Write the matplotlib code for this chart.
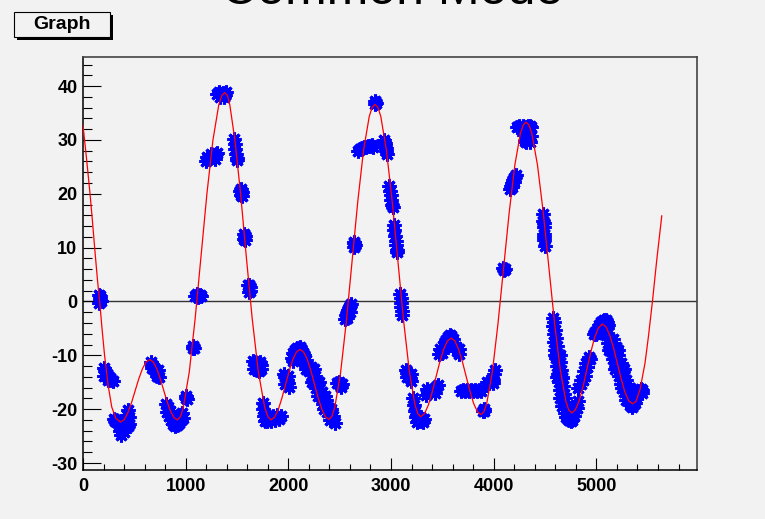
import matplotlib
matplotlib.use("Agg")
import matplotlib.pyplot as plt
from matplotlib.patches import Rectangle
from matplotlib.ticker import MultipleLocator

plt.rcParams['font.family'] = ['Liberation Sans', 'DejaVu Sans']
plt.rcParams['axes.unicode_minus'] = False

# -----------------------
# Data
# -----------------------
# red fit curve
fit_x = [0, 34, 68, 92, 117, 141, 165, 187, 210, 245, 280, 320, 365,
         401, 436, 472, 508, 543, 579, 614, 650,
         684, 717, 751, 785, 818, 852, 885, 919,
         948, 977, 1035, 1092, 1150, 1207, 1265, 1322, 1351, 1380,
         1408, 1430, 1480, 1535, 1590, 1648, 1708, 1770, 1801, 1831,
         1866, 1902, 1937, 1973, 2008, 2043, 2079, 2114,
         2149, 2185, 2220, 2255, 2290, 2326, 2361, 2396,
         2424, 2452, 2508, 2564, 2620, 2676, 2732, 2788, 2816, 2844,
         2872, 2900, 2955, 3011, 3067, 3122, 3178, 3233, 3261, 3289,
         3326, 3363, 3400, 3437, 3474, 3511, 3548, 3585,
         3622, 3658, 3695, 3731, 3768, 3804, 3841, 3877,
         3904, 3932, 3987, 4041, 4096, 4151, 4206, 4260, 4288, 4315,
         4343, 4371, 4426, 4482, 4538, 4593, 4649, 4704, 4732, 4760,
         4797, 4835, 4872, 4910, 4947, 4984, 5022, 5059,
         5096, 5132, 5169, 5205, 5242, 5278, 5315, 5351,
         5385, 5426, 5474, 5507, 5546, 5588, 5637]
fit_y = [32.7, 26.6, 20.1, 14.9, 9.2, 4.0, -0.6, -5.4, -10.0, -15.6, -19.6, -21.7, -22.4,
         -21.96, -20.70, -18.82, -16.6, -14.38, -12.50, -11.24, -10.8,
         -11.23, -12.44, -14.26, -16.4, -18.54, -20.36, -21.57, -22.0,
         -21.42, -19.68, -13.10, -3.23, 8.4, 20.03, 29.90, 36.48, 38.22, 38.8,
         38.2, 36.5, 29.9, 20.0, 8.4, -3.2, -13.1, -19.7, -21.4, -22.0,
         -21.50, -20.08, -17.96, -15.45, -12.94, -10.82, -9.40, -8.9,
         -9.40, -10.80, -12.91, -15.4, -17.89, -20.0, -21.40, -21.9,
         -21.34, -19.67, -13.34, -3.84, 7.35, 18.54, 28.04, 34.37, 36.04, 36.6,
         36.04, 34.39, 28.11, 18.70, 7.6, -3.50, -12.91, -19.19, -20.84, -21.4,
         -20.84, -19.26, -16.89, -14.1, -11.31, -8.94, -7.36, -6.8,
         -7.34, -8.88, -11.18, -13.9, -16.62, -18.92, -20.46, -21.0,
         -20.48, -18.93, -13.05, -4.24, 6.15, 16.54, 25.35, 31.23, 32.78, 33.3,
         32.78, 31.24, 25.39, 16.63, 6.3, -4.03, -12.79, -18.64, -20.18, -20.7,
         -20.07, -18.28, -15.61, -12.45, -9.29, -6.62, -4.83, -4.2,
         -4.76, -6.37, -8.77, -11.6, -14.43, -16.83, -18.44, -19.0,
         -18.6, -16.3, -11.4, -6.5, 0.0, 7.7, 15.9]

# blue measured points, one line per group of samples
data_x = [155, 170, 160, 175, 165,
          203, 215, 230, 245, 260, 275, 290, 205, 240,
          300, 312, 325, 340, 355, 365, 372, 385, 395, 400, 415, 425, 435, 445, 450, 440,
          660, 672, 685, 700, 712, 725, 740, 668, 730,
          805, 815, 825, 835, 845, 855, 865, 875, 885, 895, 905, 915, 925, 935, 945, 955, 965, 972,
          1000, 1012, 1006,
          1068, 1082, 1075,
          1092, 1108, 1122, 1135, 1148,
          1196, 1215, 1235, 1255, 1275, 1295, 1305, 1205, 1245, 1285,
          1305, 1325, 1345, 1365, 1385, 1395, 1335, 1375,
          1470, 1478, 1484, 1490, 1496, 1500,
          1525, 1540, 1550, 1535, 1545,
          1568, 1580, 1575, 1572,
          1610, 1625, 1615, 1628, 1620,
          1660, 1680, 1700, 1720, 1735, 1665, 1690, 1710, 1730,
          1750, 1755, 1762, 1770, 1785, 1795, 1810, 1830, 1850, 1870, 1890, 1910, 1925,
          1955, 1970, 1985, 2000, 2010, 1965, 1995,
          2035, 2050, 2065, 2080, 2095, 2110, 2125, 2140, 2155, 2170, 2045, 2100, 2150,
          2166, 2224, 2201, 2258, 2236, 2293, 2270, 2328, 2305, 2362, 2340, 2397, 2374, 2431,
          2409, 2450, 2256, 2325, 2394,
          2175, 2245, 2232, 2302, 2290, 2360, 2348, 2418,
          2475, 2500, 2525, 2490, 2515,
          2555, 2565, 2575, 2585, 2595, 2605, 2612, 2570, 2600,
          2635, 2650, 2643, 2640,
          2675, 2695, 2715, 2735, 2755, 2775, 2795, 2815, 2825,
          2840, 2855, 2848,
          2935, 2945, 2955, 2960, 2940, 2950,
          2985, 2992, 2998, 3004, 3010, 3015,
          3025, 3032, 3038, 3044, 3050, 3057, 3060,
          3090, 3095, 3098, 3102, 3105, 3108,
          3148, 3160, 3172, 3185, 3197, 3155, 3190,
          3215, 3222, 3230, 3240, 3250, 3265, 3280, 3295, 3310, 3325,
          3340, 3360, 3380, 3400, 3420, 3440, 3455, 3350, 3430,
          3470, 3480, 3495, 3510, 3525, 3540, 3555, 3570, 3585, 3600, 3615, 3630, 3645, 3660, 3665, 3545, 3600,
          3680, 3700, 3720, 3740, 3760, 3780, 3800, 3820, 3840, 3860, 3880,
          3895, 3910, 3903,
          3935, 3955, 3975, 3995, 4005, 4008, 3990,
          4095, 4110, 4103,
          4155, 4165, 4175, 4185, 4195, 4205, 4215, 4180, 4200,
          4230, 4250, 4270, 4290, 4310, 4330, 4350, 4368, 4295, 4315, 4335, 4355, 4366, 4325, 4300,
          4480, 4483, 4486, 4489, 4492, 4495, 4485, 4490,
          4573, 4583, 4578, 4596, 4585, 4607, 4592, 4619, 4600, 4631, 4608, 4642, 4616, 4652,
          4625, 4663, 4634, 4674, 4642, 4683, 4652, 4693, 4662,
          4593, 4643, 4619, 4669, 4645, 4695,
          4690, 4705, 4720, 4735, 4750, 4765, 4780, 4795, 4810, 4825, 4700, 4740, 4770,
          4824, 4848, 4850, 4887, 4877, 4913, 4903, 4939, 4930, 4865, 4905,
          4975, 4990, 5000, 5015, 5030, 5045, 5060, 5075, 5090, 5105, 5115, 5025, 5060, 5100,
          5090, 5162, 5115, 5188, 5140, 5213, 5166, 5239, 5191, 5264, 5217, 5289, 5242, 5315,
          5268, 5340, 5293,
          5132, 5158, 5183, 5209, 5234, 5259, 5285, 5310,
          5126, 5206, 5185, 5265, 5245, 5325,
          5330, 5345, 5360, 5375, 5350, 5385, 5400, 5415, 5430, 5445, 5440]
data_y = [1.2, 1.0, -0.3, 0.0, 0.5,
          -12.3, -12.9, -13.4, -13.9, -14.3, -14.6, -14.8, -13.8, -14.6,
          -21.8, -22.2, -22.0, -22.6, -23.2, -24.0, -24.8, -23.5, -24.3, -22.8, -22.0, -21.0, -20.2, -21.5, -22.8, -23.2,
          -11.2, -11.8, -12.2, -12.6, -13.3, -13.8, -14.1, -12.4, -12.8,
          -19.0, -20.5, -19.6, -21.2, -20.3, -22.0, -21.0, -22.8, -21.6, -23.2, -22.0, -23.0, -21.5, -22.5, -21.0, -22.0, -20.8, -21.6,
          -17.6, -18.2, -17.9,
          -8.3, -8.7, -8.6,
          1.0, 1.3, 0.9, 1.2, 1.0,
          26.0, 26.4, 26.6, 26.8, 27.0, 27.3, 27.5, 26.9, 27.4, 26.4,
          38.6, 38.9, 38.5, 38.8, 38.4, 38.9, 38.0, 38.0,
          30.2, 29.2, 28.3, 27.4, 26.6, 26.2,
          20.5, 19.8, 20.3, 20.8, 19.5,
          12.5, 11.5, 12.2, 11.6,
          3.1, 2.6, 1.8, 1.9, 3.0,
          -11.0, -11.2, -11.5, -11.2, -11.8, -12.5, -12.8, -13.0, -12.6,
          -18.8, -20.0, -21.2, -22.2, -21.0, -22.2, -21.3, -22.2, -21.2, -22.0, -21.0, -21.8, -21.2,
          -13.4, -14.0, -14.6, -15.2, -15.9, -15.3, -13.8,
          -10.5, -9.5, -9.0, -8.6, -8.8, -8.5, -8.9, -9.5, -10.0, -10.8, -11.0, -10.0, -11.2,
          -11.5, -12.25, -13.0, -13.75, -14.5, -15.25, -16.0, -16.75, -17.5, -18.25, -19.0, -19.75, -20.5, -21.25,
          -22.0, -22.6, -14.5, -17.5, -20.5,
          -12.5, -12.5, -15.0, -15.0, -17.5, -17.5, -20.0, -20.0,
          -15.2, -15.6, -15.3, -15.0, -15.8,
          -3.2, -2.5, -2.2, -1.6, -1.3, -0.8, -0.5, -3.0, -1.9,
          11.0, 10.4, 10.8, 10.2,
          28.0, 28.3, 28.5, 28.6, 28.7, 28.8, 28.9, 29.0, 28.7,
          37.2, 36.9, 36.6,
          30.0, 29.0, 28.0, 27.4, 29.5, 28.5,
          21.5, 20.6, 19.7, 18.8, 18.0, 17.6,
          14.2, 13.2, 12.2, 11.3, 10.4, 9.6, 9.2,
          1.4, 0.6, -0.2, -1.0, -1.8, -2.6,
          -12.8, -13.3, -13.8, -14.3, -14.8, -14.0, -13.5,
          -18.0, -19.2, -20.4, -21.5, -22.3, -21.5, -22.2, -21.6, -22.3, -21.8,
          -17.3, -16.9, -16.6, -16.4, -16.2, -15.9, -15.6, -16.2, -17.0,
          -9.8, -8.8, -9.5, -8.3, -7.5, -7.2, -6.6, -6.3, -6.5, -7.0, -7.8, -8.5, -9.2, -9.8, -8.8, -8.3, -8.5,
          -16.6, -16.4, -16.7, -16.5, -16.6, -16.4, -16.7, -16.5, -16.6, -16.4, -16.6,
          -20.3, -20.3, -20.0,
          -15.0, -15.2, -14.8, -14.5, -13.5, -12.8, -15.2,
          6.2, 6.0, 5.9,
          20.8, 21.4, 22.0, 22.5, 22.9, 23.2, 23.5, 21.3, 22.2,
          32.4, 32.6, 32.3, 32.6, 32.4, 32.6, 32.5, 32.4, 31.0, 29.6, 30.2, 29.6, 30.8, 31.3, 29.8,
          16.2, 15.0, 13.8, 12.6, 11.4, 10.3, 14.5, 12.0,
          -3.0, -3.75, -4.5, -5.25, -6.0, -6.75, -7.5, -8.25, -9.0, -9.75, -10.5, -11.25, -12.0, -12.75,
          -13.5, -14.25, -15.0, -15.75, -16.5, -17.25, -18.0, -18.75, -19.5,
          -10.0, -10.0, -14.0, -14.0, -18.0, -18.0,
          -20.8, -21.4, -21.8, -22.0, -22.2, -22.0, -21.2, -20.5, -19.7, -18.5, -19.8, -20.8, -20.5,
          -16.0, -15.25, -14.5, -13.75, -13.0, -12.25, -11.5, -10.75, -10.3, -14.5, -12.25,
          -6.0, -5.6, -6.1, -5.0, -4.4, -3.9, -3.6, -3.4, -3.5, -3.8, -4.3, -5.5, -4.8, -5.0,
          -6.25, -7.0, -7.75, -8.5, -9.25, -10.0, -10.75, -11.5, -12.25, -13.0, -13.75, -14.5, -15.25, -16.0,
          -16.75, -17.5, -18.25,
          -7.0, -8.5, -10.0, -11.5, -13.0, -14.5, -16.0, -17.5,
          -9.0, -9.0, -12.5, -12.5, -16.0, -16.0,
          -19.2, -19.6, -19.3, -18.8, -18.3, -18.0, -17.3, -16.6, -16.3, -16.5, -17.0]

x_ticks = [0, 1000, 2000, 3000, 4000, 5000]
y_ticks = [-30, -20, -10, 0, 10, 20, 30, 40]
x_labels = ["0", "1000", "2000", "3000", "4000", "5000"]
y_labels = ["-30", "-20", "-10", "0", "10", "20", "30", "40"]

# -----------------------
# Figure
# -----------------------
W, H = 765, 519
BG = "#f2f2f2"
fig = plt.figure(figsize=(W / 100, H / 100), dpi=100, facecolor=BG)
ax = fig.add_axes([83 / W, 1 - 470 / H, (697 - 83) / W, (470 - 57) / H])
ax.set_facecolor(BG)

ax.axhline(0, color="#333333", lw=1.0, zorder=1)
ax.plot(data_x, data_y, ls="none", marker=(8, 2, 0), ms=10, mew=2.2,
        color="#0000ff", zorder=2)
ax.plot(fit_x, fit_y, color="#ff0000", lw=0.9, zorder=3)

ax.set_xlim(0, 5980)
ax.set_ylim(-31.3, 45.4)

ax.set_xticks(x_ticks)
ax.set_xticklabels(x_labels, fontweight="bold", fontsize=13)
ax.set_yticks(y_ticks)
ax.set_yticklabels(y_labels, fontweight="bold", fontsize=13)
ax.xaxis.set_minor_locator(MultipleLocator(200))
ax.yaxis.set_minor_locator(MultipleLocator(2))
ax.tick_params(axis="x", which="major", direction="in", length=8.6, width=0.8, pad=6)
ax.tick_params(axis="x", which="minor", direction="in", length=4.3, width=0.8)
ax.tick_params(axis="y", which="major", direction="in", length=13, width=0.8, pad=4)
ax.tick_params(axis="y", which="minor", direction="in", length=6.5, width=0.8)

for side in ("left", "bottom"):
    ax.spines[side].set_color("black")
    ax.spines[side].set_linewidth(1.1)
for side in ("top", "right"):
    ax.spines[side].set_color("#444444")
    ax.spines[side].set_linewidth(1.2)

# title, cut off at top of canvas as in the original
fig.text(392 / W, 1 - 4.5 / H, "Common Mode", ha="center", va="baseline", fontsize=36)

# "Graph" label box with shadow
fig.add_artist(Rectangle((17 / W, 1 - 40 / H), 96 / W, 25 / H, transform=fig.transFigure,
                         facecolor="black", edgecolor="none"))
fig.add_artist(Rectangle((14 / W, 1 - 37 / H), 96 / W, 25 / H, transform=fig.transFigure,
                         facecolor=BG, edgecolor="black", lw=0.8))
fig.text(62 / W, 1 - 24.5 / H, "Graph", ha="center", va="center",
         fontsize=14, fontweight="bold")

fig.savefig("out.png", dpi=100, facecolor=BG)
